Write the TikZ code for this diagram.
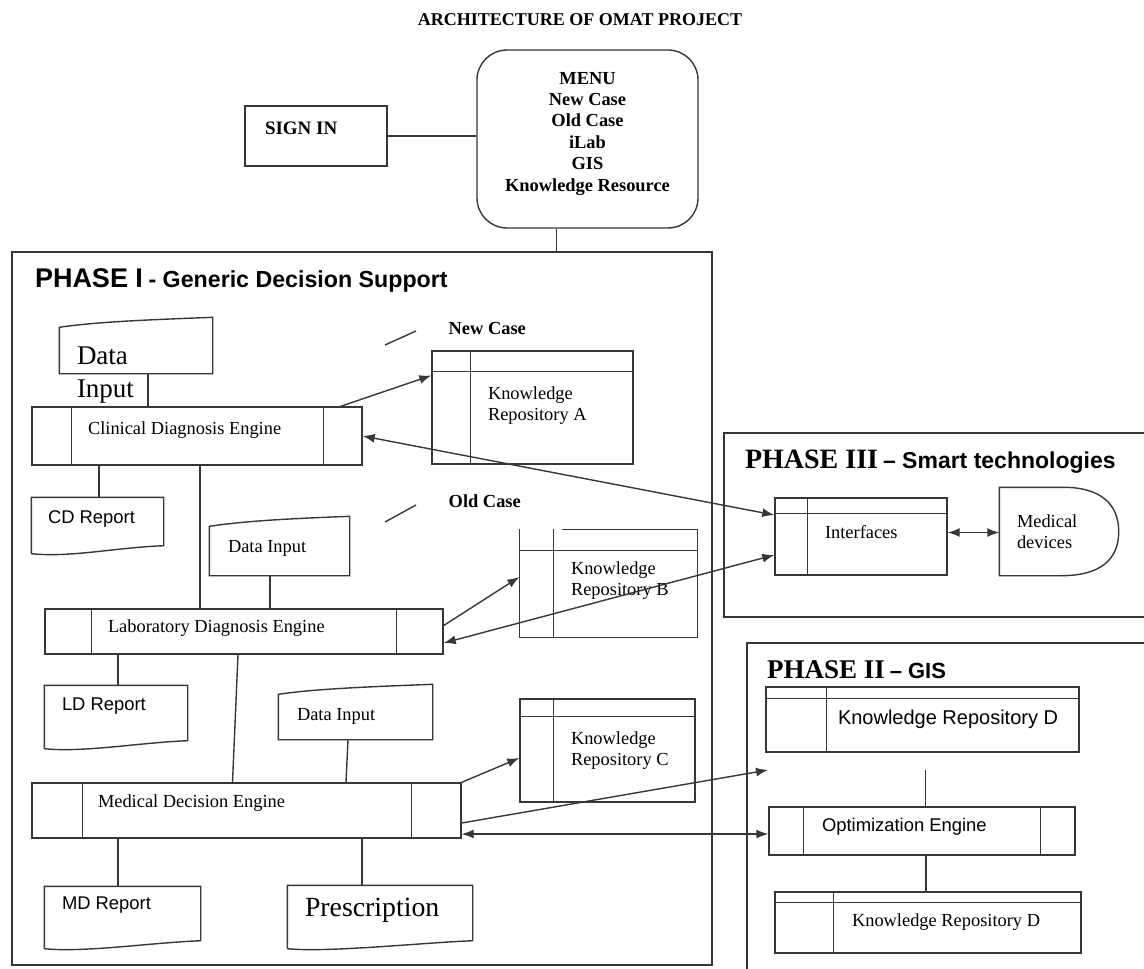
\documentclass[tikz,border=0pt]{standalone}
\usepackage{fontspec}
\setmainfont{Liberation Serif}
\setsansfont{Liberation Sans}
\usetikzlibrary{arrows.meta}
\definecolor{ln}{RGB}{55,55,55}

\begin{document}
\begin{tikzpicture}[x=0.5pt, y=-0.5pt, line width=0.7pt,
		box/.style 2 args={draw=ln, minimum width=#1, minimum height=#2, inner sep=0pt},
		blank/.style 2 args={minimum width=#1, minimum height=#2, inner sep=0pt},
		txt/.style={inner sep=0pt, align=left, font=\fontsize{9.2}{10.5}\selectfont},
		arr/.style={draw=ln, -{Latex[length=6pt,width=4.5pt]}},
		darr/.style={draw=ln, {Latex[length=6pt,width=4.5pt]}-{Latex[length=6pt,width=4.5pt]}},
		every label/.style={txt}]
				\useasboundingbox (0,0) rectangle (1144,968);
				\clip (0,0) rectangle (1144,968);
				
				\node[font=\fontsize{9}{10}\selectfont\bfseries] (title) at (580,20) {ARCHITECTURE OF OMAT PROJECT};
				\node[box={71pt}{30pt}, label={[anchor=north west, xshift=10pt, yshift=-8pt, font=\fontsize{9.5}{10}\selectfont\bfseries]north west:SIGN IN}] (signin) at (316,136) {};
				\node[box={110.5pt}{89pt}, rounded corners=15pt, label={[anchor=north, yshift=-11pt, align=center, font=\fontsize{9.2}{10.7}\selectfont\bfseries]north:MENU\\New Case\\Old Case\\iLab\\GIS\\Knowledge Resource}] (menu) at (587.5,139) {};
				
				\node[box={350pt}{356.5pt}, label={[anchor=base west, xshift=11.5pt, yshift=-18pt, font=\sffamily\bfseries]north west:{\fontsize{13.5}{14}\selectfont PHASE I} {\fontsize{11.6}{13}\selectfont - Generic Decision Support}}] (ph1) at (362,608.5) {};
				\node[box={220pt}{92pt}, label={[anchor=base west, xshift=10.5pt, yshift=-18pt, font=\bfseries]north west:{\fontsize{14}{15}\selectfont PHASE III} {\sffamily\fontsize{11.5}{13}\selectfont -- Smart technologies}}] (ph3) at (944,525) {};
				\node[box={208.5pt}{175pt}, label={[anchor=base west, xshift=10pt, yshift=-18pt, font=\bfseries]north west:{\fontsize{13.5}{14}\selectfont PHASE II} {\sffamily\fontsize{11}{13}\selectfont -- GIS}}] (ph2) at (955.5,818) {};
				
				\node[blank={76pt}{27.5pt}, label={[anchor=north west, xshift=8.5pt, yshift=-14.5pt, font=\fontsize{13.5}{16.5}\selectfont]north west:Data\\Input}] (din1) at (136,345.5) {};
				\node[box={165pt}{29pt}, label={[anchor=west, xshift=28pt, yshift=3pt]west:Clinical Diagnosis Engine}] (clin) at (197,436) {};
				\node[blank={65.5pt}{23.5pt}, label={[anchor=west, xshift=8pt, yshift=1.5pt, font=\sffamily\fontsize{9.2}{10}\selectfont]west:CD Report}] (cdrep) at (97.5,521.5) {};
				\node[blank={69.5pt}{29pt}, label={[anchor=west, xshift=9pt, yshift=-1pt]west:Data Input}] (din2) at (279.5,546) {};
				\node[box={199pt}{22.5pt}, label={[anchor=west, xshift=31.5pt, yshift=1.5pt]west:Laboratory Diagnosis Engine}] (lab) at (244,631.5) {};
				\node[blank={71pt}{27pt}, label={[anchor=west, xshift=8.5pt, yshift=3.5pt, font=\sffamily\fontsize{9.2}{10}\selectfont]west:LD Report}] (ldrep) at (116,713) {};
				\node[blank={76.5pt}{27pt}, label={[anchor=west, xshift=9pt, yshift=-2pt]west:Data Input}] (din3) at (355.5,712) {};
				\node[box={214.5pt}{27.5pt}, label={[anchor=west, xshift=33pt, yshift=3.5pt]west:Medical Decision Engine}] (med) at (246.5,810.5) {};
				\node[blank={77.5pt}{26.5pt}, label={[anchor=west, xshift=8.5pt, yshift=4pt, font=\sffamily\fontsize{9.2}{10}\selectfont]west:MD Report}] (mdrep) at (122.5,913.5) {};
				\node[blank={92pt}{27pt}, label={[anchor=west, xshift=8.5pt, yshift=1.5pt, font=\fontsize{13.9}{15}\selectfont]west:Prescription}] (presc) at (380,913) {};
				
				\node[txt, anchor=west, font=\fontsize{9.2}{10}\selectfont\bfseries] (newcase) at (448,328) {New Case};
				\node[txt, anchor=west, font=\fontsize{9.2}{10}\selectfont\bfseries] (oldcase) at (448,501) {Old Case};
				\node[box={100.5pt}{56.5pt}, label={[anchor=west, xshift=28pt, yshift=1pt]west:Knowledge\\Repository A}] (kra) at (532.5,407.5) {};
				\node[blank={88.5pt}{53.5pt}, label={[anchor=west, xshift=25.5pt, yshift=1.5pt]west:Knowledge\\Repository B}] (krb) at (608.5,583.5) {};
				\node[box={87.5pt}{51.5pt}, label={[anchor=west, xshift=25.5pt]west:Knowledge\\Repository C}] (krc) at (607.5,750.5) {};
				
				\node[box={86pt}{38.5pt}, label={[anchor=west, xshift=25pt, yshift=2pt]west:Interfaces}] (intf) at (861,536.5) {};
				\node[blank={59pt}{43.5pt}, label={[anchor=west, xshift=8.5pt]west:Medical\\devices}] (mdev) at (1059,531.5) {};
				
				\node[box={156.5pt}{32.5pt}, label={[anchor=west, xshift=36pt, font=\sffamily\fontsize{10}{11}\selectfont]west:Knowledge Repository D}] (krd) at (922.5,719.5) {};
				\node[box={153pt}{24pt}, label={[anchor=west, xshift=26.5pt, yshift=2pt, font=\sffamily\fontsize{9.2}{10}\selectfont]west:Optimization Engine}] (opt) at (922,831) {};
				\node[box={153pt}{30.5pt}, label={[anchor=west, xshift=38.5pt]west:Knowledge Repository D}] (krdb) at (928,922.5) {};
				\coordinate (gisin) at (768,770);
				
				\foreach \n in {din1,din2,din3}
					\draw[ln] (\n.south west) -- ([yshift=-5pt]\n.north west) .. controls +(20pt,3pt) and +(-25pt,-1pt) .. (\n.north east) -- (\n.south east) -- cycle;
				\foreach \n in {cdrep,ldrep,mdrep,presc}
					\draw[ln] ([yshift=-4pt]\n.south west) -- (\n.north west) -- (\n.north east) -- (\n.south east) .. controls +(-25pt,-1pt) and +(20pt,-2pt) .. ([yshift=-4pt]\n.south west);
				\foreach \n/\a/\b in {clin/20pt/19.5pt,lab/23.5pt/23.5pt,med/25.5pt/25pt,opt/17.5pt/17.5pt}
					\draw[ln] ([xshift=\a]\n.north west) -- ([xshift=\a]\n.south west) ([xshift=-\b]\n.north east) -- ([xshift=-\b]\n.south east);
				\foreach \n/\h/\c in {kra/10.5pt/19.5pt,krb/10.5pt/17pt,krc/9pt/17pt,intf/8pt/16.5pt,krd/6pt/30.5pt,krdb/5.5pt/29.5pt}
					\draw[ln] ([yshift=-\h]\n.north west) -- ([yshift=-\h]\n.north east) ([xshift=\c]\n.north west) -- ([xshift=\c]\n.south west);
				\draw[ln] ([xshift=21.5pt]krb.north west) -- (krb.north east) -- (krb.south east) -- (krb.south west) -- (krb.north west);
				\draw[ln] (mdev.north west) -- ([xshift=-27.5pt]mdev.north east) .. controls +(18pt,0pt) and +(0pt,14pt) .. (mdev.east) .. controls +(0pt,-14pt) and +(20pt,0pt) .. ([xshift=-29pt]mdev.south east) -- (mdev.south west) -- cycle;
				
				\draw[ln] (signin.east) -- (signin.east -| menu.west);
				\draw[ln] ([xshift=-15.5pt]menu.south) -- ([xshift=-15.5pt]menu.south |- ph1.north);
				\draw[ln] ([xshift=6pt]din1.south) -- ([xshift=6pt]din1.south |- clin.north);
				\draw[ln] ([xshift=0.75pt]cdrep.north) -- ([xshift=0.75pt]cdrep.north |- clin.south);
				\draw[ln] ([xshift=1.5pt]clin.south) -- ([xshift=1.5pt]clin.south |- lab.north);
				\draw[ln] ([xshift=-4.75pt]din2.south) -- ([xshift=-4.75pt]din2.south |- lab.north);
				\draw[ln] ([xshift=1pt]ldrep.north) -- ([xshift=1pt]ldrep.north |- lab.south);
				\draw[ln] ([xshift=-3pt]lab.south) -- ([xshift=-7pt]med.north);
				\draw[ln] ([xshift=-3.75pt]din3.south) -- ([xshift=-4.75pt]din3.south |- med.north);
				\draw[ln] ([xshift=-2.25pt]mdrep.north) -- ([xshift=-2.25pt]mdrep.north |- med.south);
				\draw[ln] ([xshift=-9pt]presc.north) -- ([xshift=-9pt]presc.north |- med.south);
				\draw[ln] ([xshift=1.75pt]opt.north) -- ([xshift=1.75pt, yshift=-8.5pt]opt.north |- krd.south);
				\draw[ln] ([xshift=2pt]opt.south) -- ([xshift=2pt]opt.south |- krdb.north);
				\draw[ln] (385,345) -- (416,331);
				\draw[ln] (385,522) -- (416,505);
				
				\draw[arr] ([xshift=-11pt]clin.north east) -- ([yshift=16pt]kra.west);
				\draw[darr] (clin.east) -- ([yshift=10.75pt]intf.west);
				\draw[arr] ([yshift=3pt]lab.east) -- ([yshift=3.25pt]krb.west);
				\draw[darr] ([yshift=-5.75pt]lab.east) -- ([yshift=-9.25pt]intf.west);
				\draw[arr] (med.north east) -- ([yshift=-3.75pt]krc.west);
				\draw[arr] ([yshift=-6.25pt]med.east) -- (gisin);
				\draw[darr] ([yshift=-11.75pt]med.east) -- ([yshift=-11.75pt]med.east -| opt.west);
				\draw[darr] ([yshift=2pt]intf.east) -- ([yshift=2pt]intf.east -| mdev.west);
			\end{tikzpicture}
\end{document}
